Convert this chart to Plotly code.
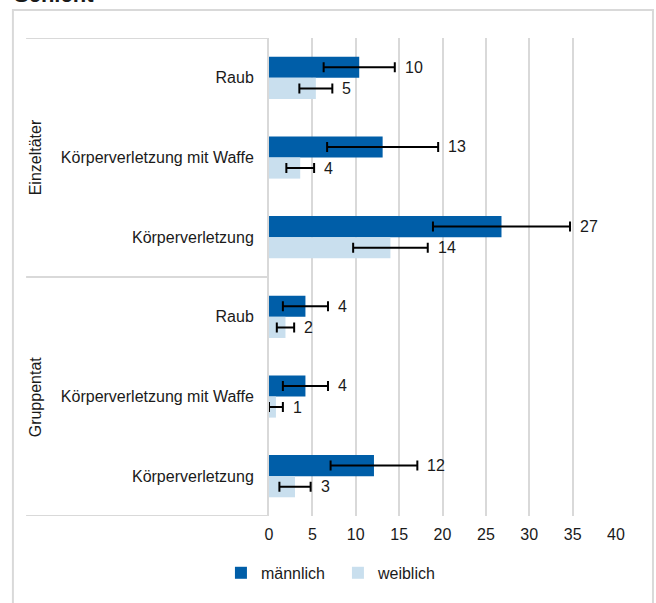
import plotly.graph_objects as go

groups = ["Einzeltäter", "Gruppentat"]
offences = ["Raub", "Körperverletzung mit Waffe", "Körperverletzung"]
male = [10.4, 13.1, 26.8, 4.2, 4.2, 12.1]
female = [5.4, 3.6, 14.0, 1.9, 0.8, 3.0]
male_err = [4.1, 6.4, 7.9, 2.6, 2.6, 5.0]
female_err = [1.9, 1.6, 4.3, 1.0, 0.8, 1.8]
male_labels = ["10", "13", "27", "4", "4", "12"]
female_labels = ["5", "4", "14", "2", "1", "3"]
x_ticks = [0, 5, 10, 15, 20, 25, 30, 35, 40]

FONT = "Liberation Sans, Arial, sans-serif"
FS = 16
TXT = "#1a1a1a"
GRID = "#d9d9d9"
BLUE = "#005ea8"
LIGHT = "#c9dfee"

cats = [o for g in groups for o in offences]
pos = list(range(len(cats)))

fig = go.Figure()
fig.add_trace(go.Bar(
    y=pos, x=male, orientation="h", name="männlich",
    marker=dict(color=BLUE, line=dict(width=0)),
    error_x=dict(type="data", array=male_err, color="#000", thickness=2, width=5),
))
fig.add_trace(go.Bar(
    y=pos, x=female, orientation="h", name="weiblich",
    marker=dict(color=LIGHT, line=dict(width=0)),
    error_x=dict(type="data", array=female_err, color="#000", thickness=2, width=5),
))

off = 0.132
anns = []
for i in pos:
    anns.append(dict(x=male[i] + male_err[i], y=i - off, xref="x", yref="y",
                     text=male_labels[i], showarrow=False, xanchor="left",
                     xshift=8, font=dict(size=FS, color=TXT, family=FONT)))
    anns.append(dict(x=female[i] + female_err[i], y=i + off, xref="x", yref="y",
                     text=female_labels[i], showarrow=False, xanchor="left",
                     xshift=8, font=dict(size=FS, color=TXT, family=FONT)))

n_off = len(offences)
for gi, g in enumerate(groups):
    anns.append(dict(x=-0.672, y=gi * n_off + (n_off - 1) / 2, xref="paper", yref="y",
                     text=g, textangle=-90, showarrow=False, xanchor="center",
                     yanchor="middle", font=dict(size=FS, color=TXT, family=FONT)))

anns.append(dict(x=-0.741, y=1.0, xref="paper", yref="paper", yshift=29,
                 text="<b>Schicht</b>", showarrow=False, xanchor="left", yanchor="bottom",
                 font=dict(size=22, color=TXT, family=FONT)))

shapes = []
for gi in range(len(groups) + 1):
    yy = gi * n_off - 0.5
    shapes.append(dict(type="line", xref="paper", yref="y", x0=-0.70, x1=0,
                       y0=yy, y1=yy, line=dict(color=GRID, width=2)))
# outer chart border
shapes.append(dict(type="rect", xref="paper", yref="paper",
                   x0=-0.738, x1=1.1065, y0=-0.3, y1=1.0586,
                   line=dict(color=GRID, width=2), fillcolor="rgba(0,0,0,0)"))

fig.update_layout(
    width=656, height=603,
    margin=dict(l=268.5, r=39.5, t=38, b=87),
    paper_bgcolor="white", plot_bgcolor="white",
    barmode="group", bargap=0.47, bargroupgap=0,
    font=dict(family=FONT, size=FS, color=TXT),
    showlegend=True,
    legend=dict(orientation="h", x=-0.1385, xanchor="left", y=-0.119, yanchor="middle",
                entrywidth=72, font=dict(size=FS, color=TXT, family=FONT),
                bgcolor="rgba(0,0,0,0)"),
    annotations=anns, shapes=shapes,
    xaxis=dict(range=[0, 40], tickvals=x_ticks, ticktext=[str(v) for v in x_ticks],
               showgrid=True, gridcolor=GRID, gridwidth=2,
               zeroline=False, showline=False,
               ticks="outside", ticklen=4, tickcolor="rgba(0,0,0,0)",
               tickfont=dict(size=FS, color=TXT, family=FONT), fixedrange=True),
    yaxis=dict(tickvals=pos, ticktext=cats, range=[len(cats) - 0.5, -0.5],
               showgrid=False, zeroline=False, showline=True, linecolor=GRID, linewidth=2,
               ticks="outside", ticklen=10, tickcolor="rgba(0,0,0,0)",
               tickfont=dict(size=FS, color=TXT, family=FONT), fixedrange=True),
)

fig.write_html("out.html", config={"displayModeBar": False},
               post_script="document.body.style.margin='0';")
